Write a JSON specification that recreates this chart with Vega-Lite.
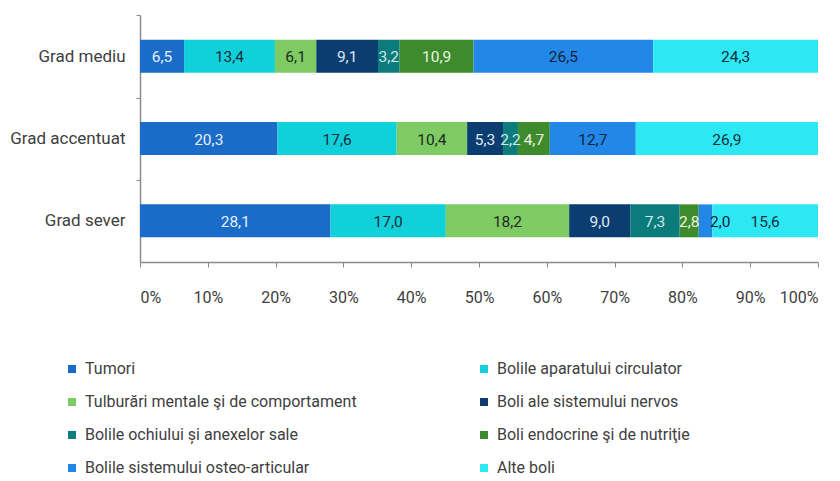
{
  "$schema": "https://vega.github.io/schema/vega-lite/v6.json",
  "width": 678,
  "height": 247,
  "autosize": {"type": "none"},
  "padding": {"left": 140, "top": 15, "right": 22, "bottom": 219},
  "background": "white",
  "config": {
    "locale": {"number": {"decimal": ",", "thousands": ".", "grouping": [3], "currency": ["", " lei"]}},
    "view": {"stroke": null},
    "font": "Roboto"
  },
  "data": {
    "values": [
      {"grad": "Grad mediu", "cat": "Tumori", "order": 1, "v": 6.5},
      {"grad": "Grad mediu", "cat": "Bolile aparatului circulator", "order": 2, "v": 13.4},
      {"grad": "Grad mediu", "cat": "Tulburări mentale şi de comportament", "order": 3, "v": 6.1},
      {"grad": "Grad mediu", "cat": "Boli ale sistemului nervos", "order": 4, "v": 9.1},
      {"grad": "Grad mediu", "cat": "Bolile ochiului și anexelor sale", "order": 5, "v": 3.2},
      {"grad": "Grad mediu", "cat": "Boli endocrine şi de nutriţie", "order": 6, "v": 10.9},
      {"grad": "Grad mediu", "cat": "Bolile sistemului osteo-articular", "order": 7, "v": 26.5},
      {"grad": "Grad mediu", "cat": "Alte boli", "order": 8, "v": 24.3},
      {"grad": "Grad accentuat", "cat": "Tumori", "order": 1, "v": 20.3},
      {"grad": "Grad accentuat", "cat": "Bolile aparatului circulator", "order": 2, "v": 17.6},
      {"grad": "Grad accentuat", "cat": "Tulburări mentale şi de comportament", "order": 3, "v": 10.4},
      {"grad": "Grad accentuat", "cat": "Boli ale sistemului nervos", "order": 4, "v": 5.3},
      {"grad": "Grad accentuat", "cat": "Bolile ochiului și anexelor sale", "order": 5, "v": 2.2},
      {"grad": "Grad accentuat", "cat": "Boli endocrine şi de nutriţie", "order": 6, "v": 4.7},
      {"grad": "Grad accentuat", "cat": "Bolile sistemului osteo-articular", "order": 7, "v": 12.7},
      {"grad": "Grad accentuat", "cat": "Alte boli", "order": 8, "v": 26.9},
      {"grad": "Grad sever", "cat": "Tumori", "order": 1, "v": 28.1},
      {"grad": "Grad sever", "cat": "Bolile aparatului circulator", "order": 2, "v": 17.0},
      {"grad": "Grad sever", "cat": "Tulburări mentale şi de comportament", "order": 3, "v": 18.2},
      {"grad": "Grad sever", "cat": "Boli ale sistemului nervos", "order": 4, "v": 9.0},
      {"grad": "Grad sever", "cat": "Bolile ochiului și anexelor sale", "order": 5, "v": 7.3},
      {"grad": "Grad sever", "cat": "Boli endocrine şi de nutriţie", "order": 6, "v": 2.8},
      {"grad": "Grad sever", "cat": "Bolile sistemului osteo-articular", "order": 7, "v": 2.0},
      {"grad": "Grad sever", "cat": "Alte boli", "order": 8, "v": 15.6}
    ]
  },
  "encoding": {
    "y": {
      "field": "grad",
      "type": "nominal",
      "sort": ["Grad mediu", "Grad accentuat", "Grad sever"],
      "scale": {"paddingInner": 0.6, "paddingOuter": 0.3},
      "axis": {
        "title": null,
        "domainColor": "#8c8c8c",
        "domainWidth": 1.5,
        "tickColor": "#8c8c8c",
        "tickSize": 4,
        "tickOffset": -41,
        "labelOffset": 41,
        "labelPadding": 11,
        "labelFontSize": 17,
        "labelColor": "#404040",
        "labelFont": "Roboto"
      }
    }
  },
  "layer": [
    {
      "mark": {"type": "bar"},
      "encoding": {
        "x": {
          "field": "v",
          "type": "quantitative",
          "stack": "normalize",
          "scale": {"domain": [0, 1]},
          "axis": {
            "title": null,
            "format": "%",
            "values": [0, 0.1, 0.2, 0.3, 0.4, 0.5, 0.6, 0.7, 0.8, 0.9, 1],
            "grid": false,
            "domainColor": "#8c8c8c",
            "domainWidth": 1.5,
            "tickColor": "#8c8c8c",
            "tickSize": 5,
            "labelPadding": 22,
            "labelFontSize": 16,
            "labelColor": "#404040",
            "labelFont": "Roboto"
          }
        },
        "order": {"field": "order", "type": "quantitative"},
        "color": {
          "field": "cat",
          "type": "nominal",
          "scale": {
            "domain": ["Tumori", "Bolile aparatului circulator", "Tulburări mentale şi de comportament", "Boli ale sistemului nervos", "Bolile ochiului și anexelor sale", "Boli endocrine şi de nutriţie", "Bolile sistemului osteo-articular", "Alte boli"],
            "range": ["#1a6cc8", "#10d0da", "#7ecb63", "#0b3d70", "#0c7b7b", "#3d8b2c", "#2387e8", "#2de8f3"]
          },
          "legend": {
            "title": null,
            "orient": "none",
            "direction": "horizontal",
            "legendX": -76,
            "legendY": 346,
            "columns": 2,
            "columnPadding": 119,
            "rowPadding": 17,
            "symbolType": "square",
            "symbolSize": 64,
            "symbolStrokeWidth": 0,
            "labelOffset": 5,
            "labelFontSize": 16,
            "labelColor": "#404040",
            "labelFont": "Roboto",
            "labelLimit": 400
          }
        }
      }
    },
    {
      "mark": {"type": "text", "fontSize": 15.5, "font": "Roboto", "baseline": "middle", "dy": 1},
      "encoding": {
        "x": {"field": "v", "type": "quantitative", "stack": "normalize", "bandPosition": 0.5},
        "order": {"field": "order", "type": "quantitative"},
        "text": {
          "condition": {"test": "datum.grad === 'Grad sever' && datum.order === 7", "value": ""},
          "field": "v", "type": "quantitative", "format": ".1f"
        },
        "color": {
          "field": "cat",
          "type": "nominal",
          "scale": {
            "domain": ["Tumori", "Bolile aparatului circulator", "Tulburări mentale şi de comportament", "Boli ale sistemului nervos", "Bolile ochiului și anexelor sale", "Boli endocrine şi de nutriţie", "Bolile sistemului osteo-articular", "Alte boli"],
            "range": ["#e6efff", "#1d2b3a", "#1f2a1f", "#dfe8f3", "#cfe9e9", "#eef3e0", "#13233a", "#14303a"]
          },
          "legend": null
        }
      }
    },
    {
      "transform": [
        {"stack": "v", "groupby": ["grad"], "sort": [{"field": "order", "order": "ascending"}], "offset": "normalize", "as": ["s0", "s1"]},
        {"filter": "datum.grad === 'Grad sever' && datum.order === 7"}
      ],
      "mark": {"type": "text", "fontSize": 15.5, "font": "Roboto", "baseline": "middle", "dy": 1, "dx": 8, "color": "#13233a"},
      "encoding": {
        "x": {"field": "s1", "type": "quantitative"},
        "text": {"field": "v", "type": "quantitative", "format": ".1f"}
      }
    }
  ],
  "resolve": {"scale": {"color": "independent"}, "legend": {"color": "independent"}}
}
